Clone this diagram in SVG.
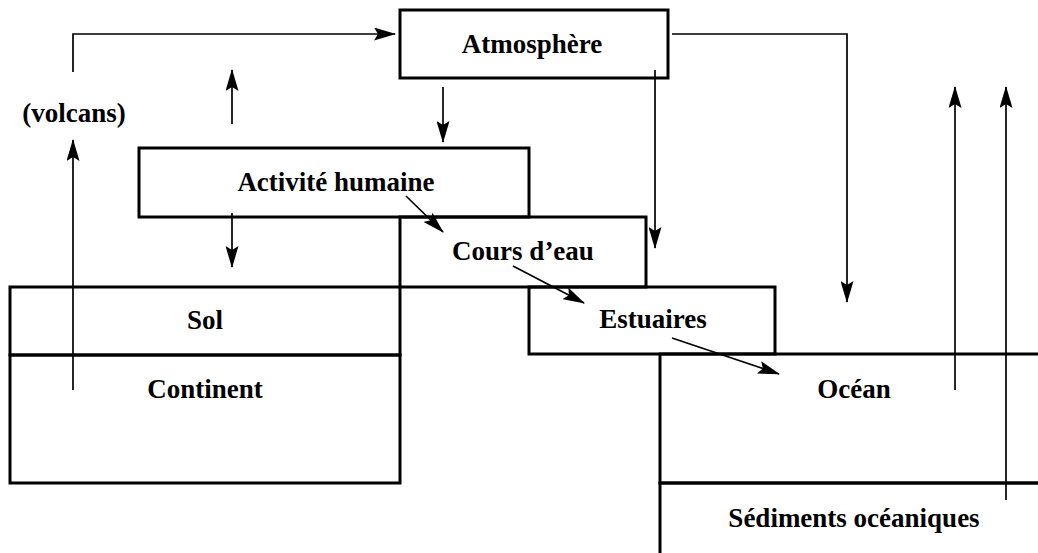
<svg xmlns="http://www.w3.org/2000/svg" width="1038" height="553" viewBox="0 0 1038 553">
<style>
.box{fill:none;stroke:#000;stroke-width:3}
.lbl{font-family:"Liberation Serif","Times New Roman",serif;font-weight:bold;font-size:27px;fill:#000;text-anchor:middle}
.con{fill:none;stroke:#000;stroke-width:1.7;marker-end:url(#ah)}
</style>
<defs>
<marker id="ah" markerUnits="userSpaceOnUse" viewBox="0 0 22 13" refX="21" refY="6.5" markerWidth="22" markerHeight="13" orient="auto">
<path d="M0,0 L22,6.5 L0,13 L4,6.5 Z" fill="#000"/>
</marker>
</defs>
<rect width="1038" height="553" fill="#fff"/>
<g id="atmosphere"><rect class="box" x="400" y="10" width="268" height="68"/><text class="lbl" x="532" y="53">Atmosphère</text></g>
<g id="activite"><rect class="box" x="139" y="148" width="390" height="69"/><text class="lbl" x="336" y="191">Activité humaine</text></g>
<g id="cours"><rect class="box" x="400" y="217" width="246" height="70"/><text class="lbl" x="523" y="260">Cours d’eau</text></g>
<g id="sol"><rect class="box" x="10" y="287" width="390" height="68"/><text class="lbl" x="205" y="329">Sol</text></g>
<g id="continent"><rect class="box" x="10" y="355" width="390" height="128"/><text class="lbl" x="205" y="398">Continent</text></g>
<g id="estuaires"><rect class="box" x="529" y="287" width="246" height="67"/><text class="lbl" x="653" y="328">Estuaires</text></g>
<g id="ocean"><rect class="box" x="660" y="354" width="385" height="129"/><text class="lbl" x="854" y="398">Océan</text></g>
<g id="sediments"><rect class="box" x="660" y="483" width="385" height="75"/><text class="lbl" x="854" y="527">Sédiments océaniques</text></g>
<g id="volcans"><text class="lbl" x="74" y="122">(volcans)</text></g>
<g id="connectors">
<path class="con" d="M73,72 V34 H395"/>
<path class="con" d="M73,390 V140"/>
<path class="con" d="M232,124 V70"/>
<path class="con" d="M443,87 V142"/>
<path class="con" d="M232,213 V267"/>
<path class="con" d="M406,196 L443,232"/>
<path class="con" d="M513,266 L584,303"/>
<path class="con" d="M672,338 L779,374"/>
<path class="con" d="M655,70 V248"/>
<path class="con" d="M672,34 H847 V302"/>
<path class="con" d="M955,390 V87"/>
<path class="con" d="M1006,500 V87"/>
</g>
</svg>
